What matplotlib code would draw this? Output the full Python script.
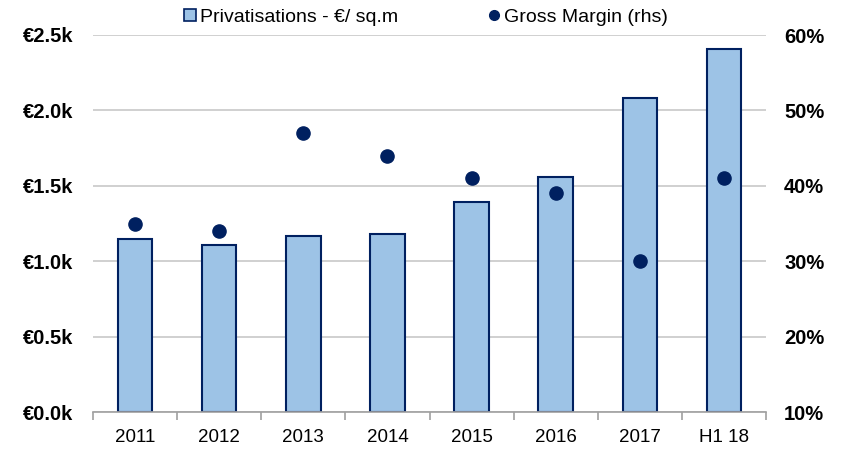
import matplotlib
matplotlib.use("Agg")
import matplotlib.pyplot as plt
from matplotlib.lines import Line2D
from matplotlib.ticker import FixedLocator, FuncFormatter
import numpy as np

plt.rcParams['font.family'] = ['Liberation Sans', 'DejaVu Sans']

categories = ['2011', '2012', '2013', '2014', '2015', '2016', '2017', 'H1 18']
price_k = [1.15, 1.11, 1.17, 1.18, 1.39, 1.56, 2.08, 2.41]
gross_margin = [35, 34, 47, 44, 41, 39, 30, 41]
left_ticks = [0.0, 0.5, 1.0, 1.5, 2.0, 2.5]
right_ticks = [10, 20, 30, 40, 50, 60]

bar_fill = '#9DC3E6'
navy = '#002060'
grid_c = '#C8C8C8'

fig = plt.figure(figsize=(8.42, 4.49), dpi=100)
ax = fig.add_axes([93/842, 1-412/449, (766-93)/842, (412-35)/449])
x = np.arange(len(categories))
ax.bar(x, price_k, width=0.41, color=bar_fill, edgecolor=navy, linewidth=1.5, zorder=2)
ax.set_xlim(-0.5, len(categories)-0.5)
ax.set_ylim(0, 2.5)
ax.set_yticks(left_ticks)
ax.yaxis.set_major_formatter(FuncFormatter(lambda v, p: f'€{v:.1f}k'))
ax.grid(axis='y', color=grid_c, linewidth=1.2, zorder=0)
ax.set_axisbelow(True)
for s in ['top', 'left', 'right']:
    ax.spines[s].set_visible(False)
ax.spines['bottom'].set_color('#A0A0A0')
ax.spines['bottom'].set_linewidth(1.2)
ax.set_xticks(x)
ax.set_xticklabels(categories, fontsize=13.5)
ax.xaxis.set_minor_locator(FixedLocator(np.arange(-0.5, len(categories), 1.0)))
ax.tick_params(axis='x', which='major', length=0, pad=12)
ax.tick_params(axis='x', which='minor', length=6, color='#A0A0A0', width=1.2)
ax.tick_params(axis='y', length=0, pad=14)
for lbl in ax.get_yticklabels():
    lbl.set_fontweight('bold')
    lbl.set_fontsize(14.5)

ax2 = ax.twinx()
ax2.set_ylim(10, 60)
ax2.set_yticks(right_ticks)
ax2.yaxis.set_major_formatter(FuncFormatter(lambda v, p: f'{v:.0f}%'))
ax2.scatter(x, gross_margin, s=90, color=navy, zorder=3)
for s in ['top', 'left', 'right', 'bottom']:
    ax2.spines[s].set_visible(False)
ax2.tick_params(axis='y', length=0, pad=13)
for lbl in ax2.get_yticklabels():
    lbl.set_fontweight('bold')
    lbl.set_fontsize(14.5)

h_bar = Line2D([], [], marker='s', linestyle='none', markersize=8, markerfacecolor=bar_fill,
               markeredgecolor=navy, markeredgewidth=1.2)
h_dot = Line2D([], [], marker='o', linestyle='none', markersize=7, color=navy)
leg1 = fig.legend([h_bar], ['Privatisations - €/ sq.m'], loc='center left',
                  bbox_to_anchor=(172/842, 1-17/449), frameon=False, fontsize=14,
                  handletextpad=0.15, handlelength=0.8, borderpad=0)
leg2 = fig.legend([h_dot], ['Gross Margin (rhs)'], loc='center left',
                  bbox_to_anchor=(476/842, 1-17/449), frameon=False, fontsize=14,
                  handletextpad=0.15, handlelength=0.8, borderpad=0)

fig.savefig('out.png', dpi=100)
